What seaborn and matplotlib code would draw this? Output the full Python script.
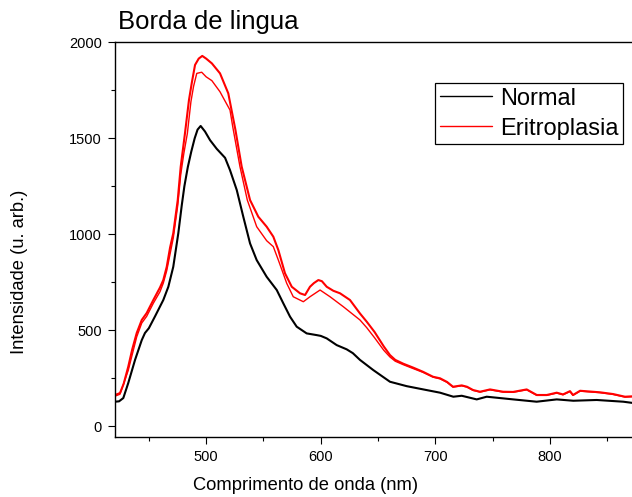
import matplotlib
matplotlib.use("Agg")
import matplotlib.pyplot as plt
import seaborn as sns
import pandas as pd
from matplotlib.ticker import MultipleLocator

# Espectros de fluorescência - borda de língua
normal_nm = [420.5, 424, 427.7, 432, 437.9, 443.8, 446.6, 450, 455.4, 462.6, 467, 471.3,
             475.7, 478.7, 481, 484, 487, 490, 492.5, 495.2, 499, 503.4, 509.2, 516.5,
             520.8, 526.7, 532.4, 538.3, 544.1, 552.8, 561.6, 567.3, 573.2, 579, 587.7,
             596.5, 600, 605.2, 613.9, 622.6, 628, 634.2, 645.8, 660.4, 675, 689.5, 704.1,
             715.7, 723, 736.1, 744.8, 768, 788.4, 805.9, 820.4, 840.8, 864, 871.6]
normal_int = [127, 129, 146, 224, 344, 448, 485, 510, 572, 657, 726, 830,
              1005, 1150, 1250, 1350, 1430, 1500, 1545, 1564, 1535, 1490, 1445, 1398,
              1334, 1230, 1091, 952, 865, 778, 709, 640, 570, 518, 483,
              474, 470, 457, 422, 400, 380, 345, 292, 231, 208, 191, 174,
              153, 158, 139, 153, 139, 127, 139, 132, 136, 127, 121]

eritro_a_nm = [420.5, 424.8, 428, 432, 435.5, 439.4, 443.8, 448.1, 453.9, 459.7, 462.6, 465.6,
               468.5, 471.3, 475.2, 477.8, 481.5, 485, 487.5, 490.3, 493.5, 496.6, 500, 505,
               512.1, 519.3, 525.5, 531, 538.3, 545.5, 552.8, 558.6, 563, 568.8, 574.7, 581.9,
               586.3, 590.6, 594, 597.9, 601, 605.2, 611, 616.8, 625.5, 634.2, 640.1, 647,
               655, 660.4, 665, 672, 680.5, 689.2, 698, 704.1, 710.2, 715.4, 723, 727.6,
               732.9, 739, 747.7, 759.1, 767.8, 779.7, 788.5, 797.2, 805.9, 811.4, 817.5,
               820.1, 826.3, 843.7, 855, 865.5, 871.6]
eritro_a_int = [162, 172, 220, 309, 400, 485, 553, 589, 657, 722, 761, 830,
                930, 1005, 1178, 1352, 1525, 1699, 1790, 1882, 1915, 1929, 1915, 1890,
                1838, 1734, 1545, 1352, 1178, 1091, 1039, 987, 917, 796, 726, 692,
                683, 726, 745, 761, 755, 726, 705, 692, 657, 587, 544, 490,
                415, 370, 345, 325, 305, 283, 257, 249, 230, 205, 212, 205,
                188, 179, 191, 179, 178, 191, 162, 162, 174, 165, 182,
                162, 184, 176, 167, 153, 155]

eritro_b_nm = [420.5, 424.8, 432, 439.4, 443.8, 448.1, 453.9, 459.7, 462.6, 465.6, 471.3,
               475.2, 477.8, 480.5, 483.6, 486.7, 489, 491.8, 496.1, 500, 505, 512.1, 515,
               520.8, 523.2, 529.5, 535.9, 544.1, 552.8, 558.6, 563, 570.3, 576, 584.8,
               590.6, 599.4, 608.1, 619.7, 634.2, 640.1, 647, 655, 660.4, 665, 672, 680.5,
               689.2, 698, 704.1, 710.2, 715.4, 723, 727.6, 732.9, 739, 747.7, 759.1, 767.8,
               779.7, 788.5, 797.2, 805.9, 811.4, 817.5, 820.1, 826.3, 843.7, 855, 865.5, 871.6]
eritro_b_int = [156, 166, 290, 465, 537, 572, 640, 700, 745, 810, 980,
                1150, 1310, 1420, 1525, 1690, 1770, 1838, 1844, 1820, 1800, 1742, 1710,
                1647, 1560, 1352, 1178, 1039, 966, 935, 865, 744, 674, 648,
                674, 709, 674, 622, 553, 513, 460, 395, 360, 338, 320, 300,
                280, 255, 246, 228, 203, 210, 203, 186, 177, 189, 177, 176,
                189, 160, 160, 172, 163, 180, 160, 182, 174, 165, 151, 153]

rotulos = ["Normal", "Eritroplasia"]
titulo = "Borda de lingua"
x_label = "Comprimento de onda (nm)"
y_label = "Intensidade (u. arb.)"

sns.set_style("ticks")
plt.rcParams["font.family"] = ["Liberation Sans", "DejaVu Sans"]
plt.rcParams["text.color"] = "black"
plt.rcParams["axes.labelcolor"] = "black"

df_normal = pd.DataFrame({"nm": normal_nm, "int": normal_int})
df_a = pd.DataFrame({"nm": eritro_a_nm, "int": eritro_a_int})
df_b = pd.DataFrame({"nm": eritro_b_nm, "int": eritro_b_int})

fig = plt.figure(figsize=(6.32, 4.97), dpi=100)
ax = fig.add_axes([0.1815, 0.1207, 0.8185, 0.7942])

sns.lineplot(data=df_b, x="nm", y="int", ax=ax, color="#ff0000", lw=1.0,
             sort=False, estimator=None)
sns.lineplot(data=df_a, x="nm", y="int", ax=ax, color="#ff0000", lw=1.5,
             sort=False, estimator=None)
sns.lineplot(data=df_normal, x="nm", y="int", ax=ax, color="black", lw=1.5,
             sort=False, estimator=None)

ax.set_xlim(420.2, 871.6)
ax.set_ylim(-57, 2000)
ax.xaxis.set_major_locator(MultipleLocator(100))
ax.xaxis.set_minor_locator(MultipleLocator(50))
ax.yaxis.set_major_locator(MultipleLocator(500))
ax.yaxis.set_minor_locator(MultipleLocator(250))
ax.tick_params(which="major", direction="out", length=5, width=0.8,
               labelsize=10.5, pad=4.3, colors="black")
ax.tick_params(which="minor", direction="out", length=3, width=0.8, colors="black")
ax.set_xlabel("")
ax.set_ylabel("")
for s in ["left", "bottom", "top"]:
    ax.spines[s].set_linewidth(1.0)
    ax.spines[s].set_color("black")
ax.spines["right"].set_visible(False)

fig.text(118 / 632, 1 - 29.3 / 497, titulo, fontsize=18.5, ha="left", va="baseline",
         color="black")
fig.text(305.7 / 632, 1 - 490 / 497, x_label, fontsize=13.2, ha="center", va="baseline",
         color="black")
fig.text(20 / 632, 1 - 271.7 / 497, y_label, fontsize=13.2, rotation=90,
         ha="center", va="center", color="black")

h_normal = ax.lines[2]
h_eritro = ax.lines[1]
leg = ax.legend([h_normal, h_eritro], rotulos, loc="upper left",
                bbox_to_anchor=(435 / 632, 1 - 83 / 497), bbox_transform=fig.transFigure,
                fontsize=17, frameon=True, fancybox=False, shadow=False,
                handlelength=2.2, handletextpad=0.36, borderpad=0.2,
                labelspacing=0.33, borderaxespad=0)
leg.get_frame().set_edgecolor("black")
leg.get_frame().set_linewidth(0.9)
leg.get_frame().set_alpha(1)
for line in leg.get_lines():
    line.set_linewidth(1.0)
for t in leg.get_texts():
    t.set_color("black")

fig.savefig("out.png", dpi=100)
